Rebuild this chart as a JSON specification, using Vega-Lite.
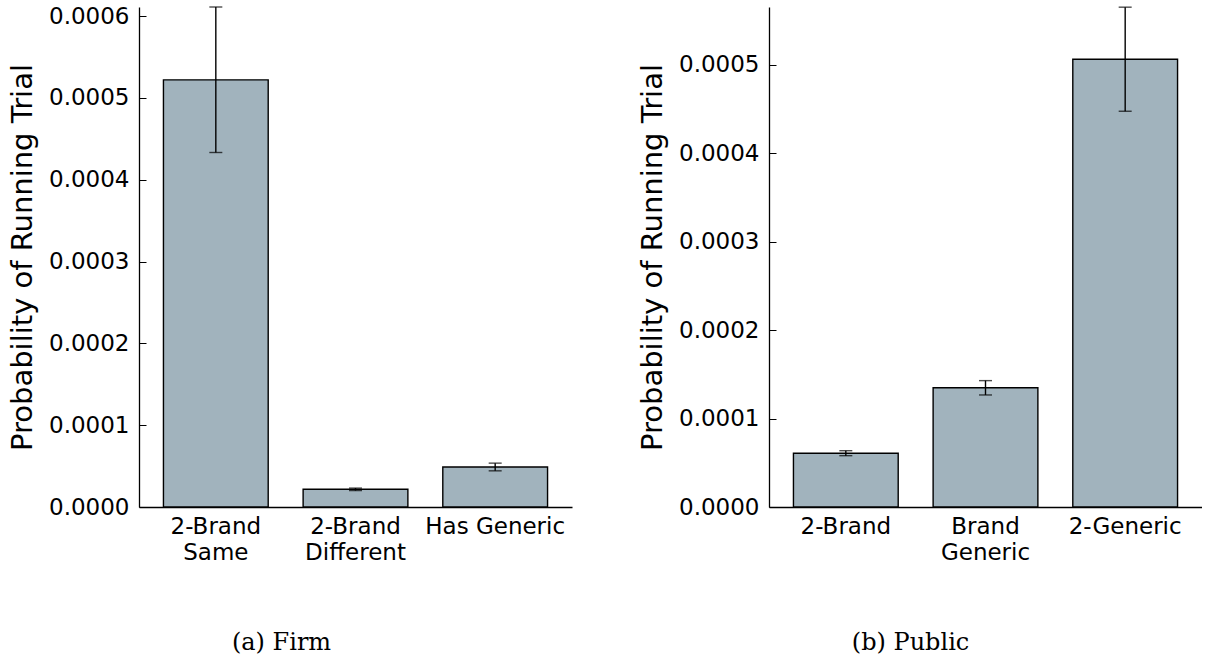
{
  "$schema": "https://vega.github.io/schema/vega-lite/v6.json",
  "background": "white",
  "padding": {"left": 7, "top": 5, "right": 0, "bottom": 0},
  "bounds": "flush",
  "spacing": 197,
  "config": {
    "view": {"stroke": null},
    "font": "DejaVu Sans",
    "axis": {"grid": false, "domainColor": "black", "domainWidth": 1.3, "tickColor": "black", "labelColor": "black", "titleColor": "black"}
  },
  "datasets": {
    "firm": [
      {"cat": "2-Brand|Same", "p": 0.000522, "lo": 0.0004332, "hi": 0.000611},
      {"cat": "2-Brand|Different", "p": 0.0000216, "lo": 0.0000201, "hi": 0.0000231},
      {"cat": "Has Generic", "p": 0.0000489, "lo": 0.0000442, "hi": 0.0000536}
    ],
    "public": [
      {"cat": "2-Brand", "p": 0.0000608, "lo": 0.000058, "hi": 0.0000636},
      {"cat": "Brand|Generic", "p": 0.0001347, "lo": 0.0001266, "hi": 0.0001428},
      {"cat": "2-Generic", "p": 0.000506, "lo": 0.0004472, "hi": 0.0005648}
    ]
  },
  "hconcat": [
    {
      "width": 433,
      "height": 500,
      "data": {"name": "firm"},
      "layer": [
        {
          "mark": {"type": "bar", "color": "#a1b3bd", "stroke": "black", "strokeWidth": 1.4},
          "encoding": {
            "x": {"field": "cat", "type": "nominal", "sort": null,
              "scale": {"paddingInner": 0.25, "paddingOuter": 0.175},
              "axis": {"title": "(a) Firm", "titleFont": "DejaVu Serif", "titleFontSize": 24, "titleFontWeight": "normal", "titleX": 142, "titleY": 142, "titleBaseline": "alphabetic",
                "ticks": false, "labelAngle": 0, "labelFontSize": 23, "labelPadding": 8.5, "labelLineHeight": 25.7, "labelExpr": "split(datum.label, '|')"}},
            "y": {"field": "p", "type": "quantitative",
              "scale": {"domain": [0, 0.000611], "nice": false, "zero": true},
              "axis": {"title": "Probability of Running Trial", "titleFontSize": 29, "titleFontWeight": "normal", "titleX": -117, "titleBaseline": "middle",
                "values": [0, 0.0001, 0.0002, 0.0003, 0.0004, 0.0005, 0.0006], "format": ".4f", "labelFontSize": 23, "tickSize": -7, "labelPadding": 17}}
          }
        },
        {
          "mark": {"type": "errorbar", "ticks": true, "color": "black", "thickness": 1.4, "size": 13},
          "encoding": {
            "x": {"field": "cat", "type": "nominal", "sort": null},
            "y": {"field": "lo", "type": "quantitative", "title": "Probability of Running Trial"},
            "y2": {"field": "hi"}
          }
        }
      ]
    },
    {
      "width": 433,
      "height": 500,
      "data": {"name": "public"},
      "layer": [
        {
          "mark": {"type": "bar", "color": "#a1b3bd", "stroke": "black", "strokeWidth": 1.4},
          "encoding": {
            "x": {"field": "cat", "type": "nominal", "sort": null,
              "scale": {"paddingInner": 0.25, "paddingOuter": 0.175},
              "axis": {"title": "(b) Public", "titleFont": "DejaVu Serif", "titleFontSize": 24, "titleFontWeight": "normal", "titleX": 141, "titleY": 142, "titleBaseline": "alphabetic",
                "ticks": false, "labelAngle": 0, "labelFontSize": 23, "labelPadding": 8.5, "labelLineHeight": 25.7, "labelExpr": "split(datum.label, '|')"}},
            "y": {"field": "p", "type": "quantitative",
              "scale": {"domain": [0, 0.000565], "nice": false, "zero": true},
              "axis": {"title": "Probability of Running Trial", "titleFontSize": 29, "titleFontWeight": "normal", "titleX": -117, "titleBaseline": "middle",
                "values": [0, 0.0001, 0.0002, 0.0003, 0.0004, 0.0005], "format": ".4f", "labelFontSize": 23, "tickSize": -7, "labelPadding": 17}}
          }
        },
        {
          "mark": {"type": "errorbar", "ticks": true, "color": "black", "thickness": 1.4, "size": 13},
          "encoding": {
            "x": {"field": "cat", "type": "nominal", "sort": null},
            "y": {"field": "lo", "type": "quantitative", "title": "Probability of Running Trial"},
            "y2": {"field": "hi"}
          }
        }
      ]
    }
  ]
}
